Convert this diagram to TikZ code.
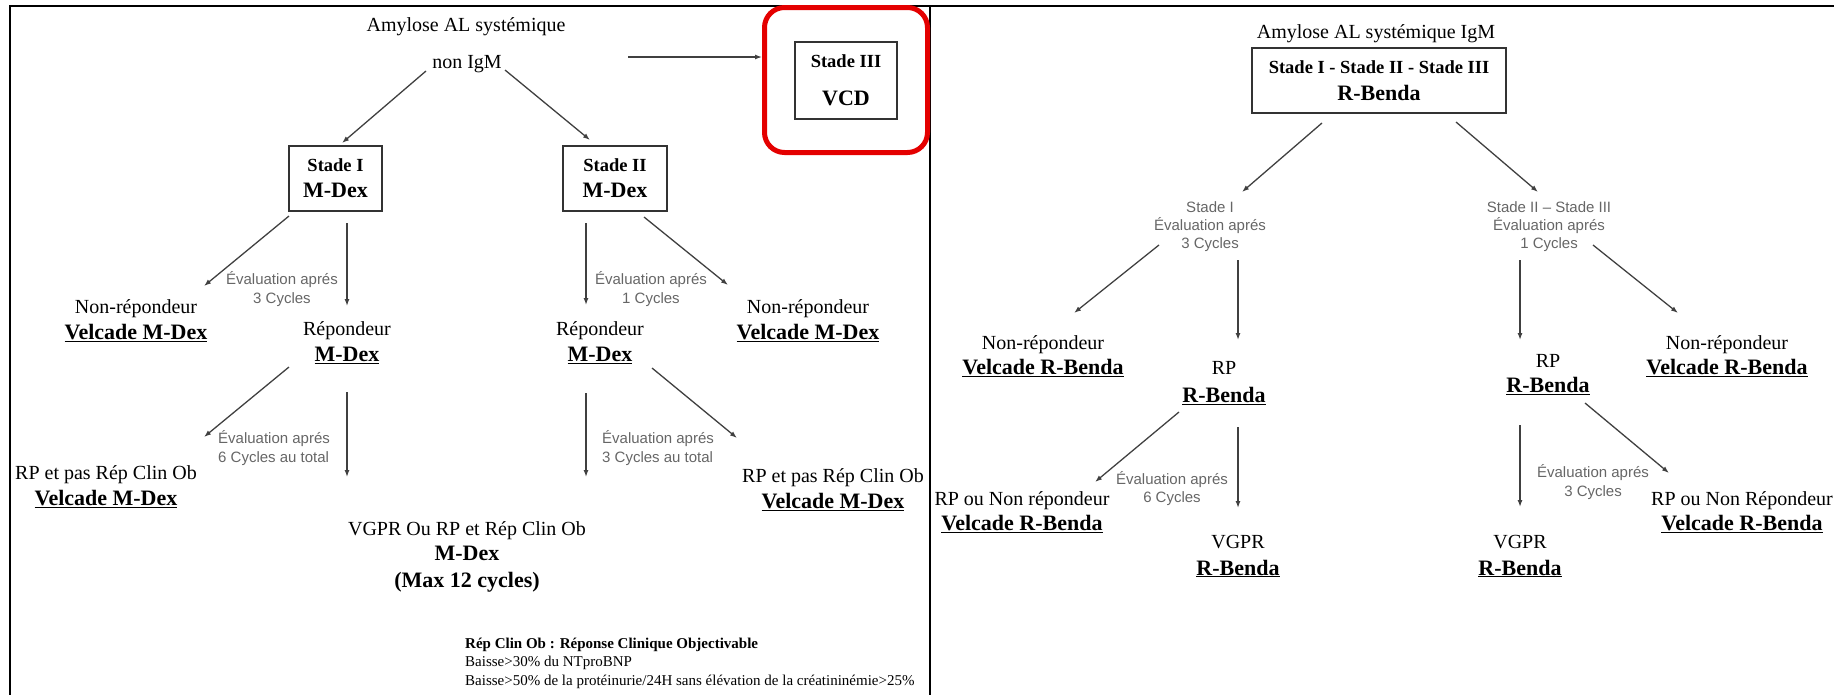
\documentclass[tikz,border=0pt]{standalone}
\usepackage{fontspec}
\setmainfont{Liberation Serif}
\newfontfamily\etiqfont{Liberation Sans}
\usetikzlibrary{arrows.meta,calc}
\definecolor{rouge}{RGB}{228,0,0}
\newcommand{\tnorm}{\fontsize{20}{26}\selectfont}
\newcommand{\tgras}[1]{{\fontsize{22}{26}\selectfont\bfseries #1}}
\newcommand{\tstade}[1]{{\fontsize{18.5}{26}\selectfont\bfseries #1}}
\newcommand{\tsoul}[1]{\tgras{\underline{#1}}}

\begin{document}
\begin{tikzpicture}[x=1pt,y=-1pt,
  texte/.style={inner sep=0pt,align=center,font=\tnorm},
  boite/.style={texte,draw=black!80,line width=2.2pt},
  gris/.style={inner sep=0pt,align=center,text=black!60,font=\etiqfont\fontsize{15}{19}\selectfont},
  fleche/.style={draw=black!75,line width=1.3pt,-{Latex[length=7pt,width=5pt]}},
  bord/.style={draw=black,line width=2pt}]
        \useasboundingbox (0,0) rectangle (1834,694);

        % Marco de los dos paneles
        \draw[bord] (10,700) |- (1840,6);
        \draw[bord] (930,6) -- (930,700);

        % Panel izquierdo: no IgM
        \node[texte] (titreL) at (466,27) {Amylose AL systémique};
        \node[texte] (nonigm) at (467,64) {non IgM};
        \node[boite,minimum width=93pt,minimum height=65pt] (s1) at (335.5,178.5) {\tstade{Stade I}\\\tgras{M-Dex}};
        \node[boite,minimum width=104pt,minimum height=65pt] (s2) at (615,178.5) {\tstade{Stade II}\\\tgras{M-Dex}};
        \node[boite,minimum width=102pt,minimum height=77pt] (s3) at (846,80.5) {\tstade{Stade III}\\[12pt]\tgras{VCD}};
        \node[draw=rouge,line width=5pt,rounded corners=20pt,minimum width=163pt,minimum height=145pt] (cadre) at (846,80) {};
        \coordinate (depart) at (628,57);

        % Primer nivel
        \node[texte] (nr1) at (136,321) {Non-répondeur\\\tsoul{Velcade M-Dex}};
        \node[texte] (rep1) at (347,343) {Répondeur\\\tsoul{M-Dex}};
        \node[texte] (rep2) at (600,343) {Répondeur\\\tsoul{M-Dex}};
        \node[texte] (nr2) at (808,321) {Non-répondeur\\\tsoul{Velcade M-Dex}};
        \node[gris] (lab1) at (282,289.5) {Évaluation aprés\\3 Cycles};
        \node[gris] (lab2) at (651,289.5) {Évaluation aprés\\1 Cycles};

        % Segundo nivel
        \node[gris,anchor=west,align=left] (lab3) at (218,448) {Évaluation aprés\\6 Cycles au total};
        \node[gris,anchor=west,align=left] (lab4) at (602,448) {Évaluation aprés\\3 Cycles au total};
        \node[texte] (rp1) at (106,487) {RP et pas Rép Clin Ob\\\tsoul{Velcade M-Dex}};
        \node[texte] (rp2) at (833,489.5) {RP et pas Rép Clin Ob\\\tsoul{Velcade M-Dex}};
        \node[texte] (vgpr1) at (467,557) {VGPR Ou RP et Rép Clin Ob\\[-1pt]\tgras{M-Dex}\\[1pt]\tgras{(Max 12 cycles)}};
        \node[texte,anchor=west,align=left,font=\fontsize{15}{18.5}\selectfont] (legende) at (465,663) {\textbf{Rép Clin Ob : Réponse Clinique Objectivable}\\Baisse>30\% du NTproBNP\\Baisse>50\% de la protéinurie/24H sans élévation de la créatininémie>25\%};

        % Flechas del panel izquierdo
        \draw[fleche] ($(nonigm)+(-41,7)$) -- ($(s1)+(6.5,-35.5)$);
        \draw[fleche] ($(nonigm)+(38,6)$) -- ($(s2)+(-25,-38.5)$);
        \draw[fleche] (depart) -- (depart -| cadre.west);
        \draw[fleche] ($(s1)+(-46.5,37.5)$) -- ($(nr1)+(68,-35)$);
        \draw[fleche] ($(s1)+(11.5,44.5)$) -- ($(rep1)+(0,-37)$);
        \draw[fleche] ($(s2)+(-29,44.5)$) -- ($(rep2)+(-14,-38)$);
        \draw[fleche] ($(s2)+(29,38.5)$) -- ($(nr2)+(-80,-36)$);
        \draw[fleche] ($(rep1)+(-58,24)$) -- ($(rp1)+(98,-50)$);
        \draw[fleche] ($(rep1)+(0,49)$) -- ($(vgpr1)+(-120,-80)$);
        \draw[fleche] ($(rep2)+(-14,50)$) -- ($(vgpr1)+(119,-80)$);
        \draw[fleche] ($(rep2)+(52,25)$) -- ($(rp2)+(-96,-51.5)$);

        % Panel derecho: IgM
        \node[texte] (titreR) at (1376,34) {Amylose AL systémique IgM};
        \node[boite,minimum width=254pt,minimum height=65pt] (sall) at (1379,80.5) {\tstade{Stade I - Stade II - Stade III}\\[1pt]\tgras{R-Benda}};
        \node[gris] (labA) at (1210,227) {Stade I\\[-1pt]Évaluation aprés\\[-1pt]3 Cycles};
        \node[gris] (labB) at (1549,227) {Stade II – Stade III\\[-1pt]Évaluation aprés\\[-1pt]1 Cycles};
        \node[texte] (nrA) at (1043,356.5) {Non-répondeur\\[-1pt]\tsoul{Velcade R-Benda}};
        \node[texte] (rpA) at (1224,383) {RP\\[2pt]\tsoul{R-Benda}};
        \node[texte] (rpB) at (1548,375) {RP\\[-1pt]\tsoul{R-Benda}};
        \node[texte] (nrB) at (1727,356.5) {Non-répondeur\\[-1pt]\tsoul{Velcade R-Benda}};
        \node[gris] (labC) at (1172,489) {Évaluation aprés\\[-1pt]6 Cycles};
        \node[gris] (labD) at (1593,482.5) {Évaluation aprés\\3 Cycles};
        \node[texte] (rnA) at (1022,512.5) {RP ou Non répondeur\\[-1pt]\tsoul{Velcade R-Benda}};
        \node[texte] (vgA) at (1238,556) {VGPR\\[1pt]\tsoul{R-Benda}};
        \node[texte] (vgB) at (1520,556) {VGPR\\[1pt]\tsoul{R-Benda}};
        \node[texte] (rnB) at (1742,512.5) {RP ou Non Répondeur\\[-1pt]\tsoul{Velcade R-Benda}};

        % Flechas del panel derecho
        \draw[fleche] ($(sall)+(-57,42.5)$) -- ($(labA)+(32,-35)$);
        \draw[fleche] ($(sall)+(77,41.5)$) -- ($(labB)+(-11,-35)$);
        \draw[fleche] ($(labA)+(-51,18)$) -- ($(nrA)+(31,-43.5)$);
        \draw[fleche] ($(labA)+(28,33)$) -- ($(rpA)+(14,-43)$);
        \draw[fleche] ($(labB)+(-29,33)$) -- ($(rpB)+(-28,-35)$);
        \draw[fleche] ($(labB)+(44,18)$) -- ($(nrB)+(-49,-43.5)$);
        \draw[fleche] ($(rpA)+(-45,29)$) -- ($(rnA)+(73,-30.5)$);
        \draw[fleche] ($(rpA)+(14,44)$) -- ($(vgA)+(0,-48)$);
        \draw[fleche] ($(rpB)+(-28,50)$) -- ($(vgB)+(0,-49)$);
        \draw[fleche] ($(rpB)+(37,28)$) -- ($(rnB)+(-73,-39.5)$);
\end{tikzpicture}
\end{document}
